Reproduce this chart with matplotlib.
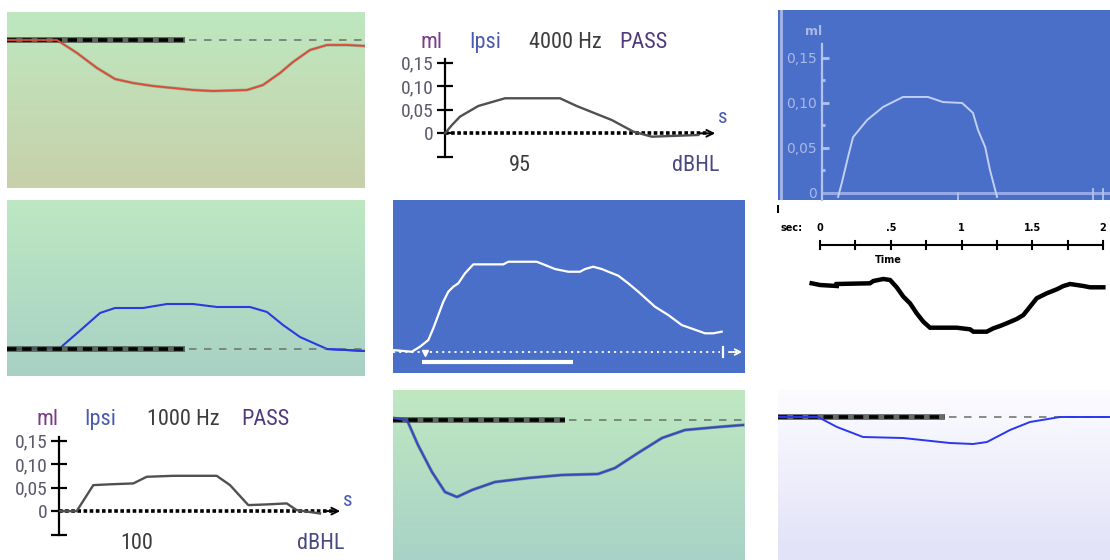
import numpy as np
import matplotlib
matplotlib.use("Agg")
import matplotlib.pyplot as plt
from matplotlib import font_manager
from matplotlib.colors import to_rgb

W, H = 1110, 560

# ---------------- data ----------------
# Panel 1 (green, red curve)
p1_t = [0, 0.25, 0.35, 0.45, 0.54, 0.63, 0.73, 0.83, 0.93, 1.03, 1.2, 1.28, 1.365, 1.43, 1.515, 1.6, 1.7, 1.79]
p1_v = [0, 0, -0.026, -0.056, -0.078, -0.086, -0.092, -0.096, -0.1, -0.102, -0.1, -0.09, -0.066, -0.044, -0.02, -0.01, -0.01, -0.012]

# Panel 2 (Ipsi 4000 Hz)
p2_t = [0, 0.07, 0.15, 0.333, 0.6, 1.15, 1.317, 1.667, 1.883, 2.067, 2.533]
p2_v = [0, 0.0177, 0.0355, 0.0581, 0.0745, 0.0745, 0.058, 0.0283, 0.0036, -0.0072, -0.0036]
p2_title = ["ml", "Ipsi", "4000 Hz", "PASS"]
p2_level = "95"

# Panel 3 (blue, arc)
p3_t = [0.118, 0.147, 0.191, 0.228, 0.331, 0.449, 0.596, 0.779, 0.89, 1.03, 1.11, 1.147, 1.2, 1.235, 1.287]
p3_v = [-0.0044, 0.0122, 0.04, 0.062, 0.081, 0.0956, 0.1067, 0.1067, 0.101, 0.1, 0.089, 0.07, 0.051, 0.0256, -0.0044]

# Panel 4 (white, black stepped trace)
p4_t = [-0.059, 0, 0.118, 0.118, 0.353, 0.377, 0.447, 0.495, 0.542, 0.589, 0.636, 0.683, 0.73, 0.777, 0.966, 1.06,
        1.084, 1.178, 1.225, 1.272, 1.319, 1.39, 1.437, 1.484, 1.531, 1.602, 1.673, 1.72, 1.767, 1.861, 1.908, 2.002]
p4_v = [0.0067, 0.005, 0.004, 0.006, 0.0067, 0.009, 0.011, 0.01, 0.0027, -0.0067, -0.0133, -0.0233, -0.0317, -0.0377,
        -0.0377, -0.0393, -0.0417, -0.0417, -0.0383, -0.036, -0.0333, -0.029, -0.025, -0.0167, -0.0083, -0.0033,
        0.0007, 0.004, 0.006, 0.004, 0.0027, 0.0027]
p4_ticks = [0, 0.25, 0.5, 0.75, 1.0, 1.25, 1.5, 1.75, 2.0]
p4_ticklabels = {0: "0", 0.5: ".5", 1.0: "1", 1.5: "1.5", 2.0: "2"}

# Panel 5 (green, blue positive curve)
p5_t = [0, 0.265, 0.38, 0.465, 0.54, 0.68, 0.8, 0.93, 1.05, 1.215, 1.3, 1.38, 1.465, 1.6, 1.79]
p5_v = [0, 0.002, 0.042, 0.072, 0.082, 0.082, 0.09, 0.09, 0.084, 0.084, 0.074, 0.048, 0.024, 0, -0.004]

# Panel 6 (blue, white curve)
p6_t = [0.003, 0.187, 0.27, 0.353, 0.403, 0.453, 0.503, 0.553, 0.603, 0.653, 0.72, 0.803, 1.103, 1.153, 1.437, 1.52,
        1.62, 1.753, 1.87, 1.92, 2.003, 2.087, 2.253, 2.353, 2.453, 2.62, 2.753, 2.887, 3.12, 3.203, 3.287]
p6_v = [0.0022, 0.0003, 0.0059, 0.0133, 0.0263, 0.0411, 0.0559, 0.067, 0.0726, 0.0763, 0.0874, 0.0974, 0.0974, 0.1003,
        0.1003, 0.0967, 0.0922, 0.0892, 0.0892, 0.0922, 0.0948, 0.0922, 0.0848, 0.0763, 0.067, 0.0503, 0.0411, 0.03,
        0.0208, 0.0208, 0.0226]

# Panel 7 (Ipsi 1000 Hz)
p7_t = [0.01, 0.177, 0.343, 0.51, 0.743, 0.877, 1.143, 1.577, 1.71, 1.893, 2.077, 2.277, 2.377, 2.61]
p7_v = [0, 0, 0.0553, 0.057, 0.0589, 0.073, 0.0751, 0.0751, 0.0553, 0.0128, 0.0142, 0.0164, 0.0021, -0.005]
p7_title = ["ml", "Ipsi", "1000 Hz", "PASS"]
p7_level = "100"

# Panel 8 (green, deep negative curve)
p8_t = [0, 0.07, 0.125, 0.195, 0.26, 0.32, 0.395, 0.51, 0.675, 0.845, 1.025, 1.11, 1.225, 1.345, 1.46, 1.625, 1.75]
p8_v = [0.004, 0, -0.05, -0.104, -0.144, -0.154, -0.14, -0.124, -0.116, -0.11, -0.108, -0.096, -0.066, -0.036, -0.02, -0.014, -0.01]

# Panel 9 (lavender, shallow negative curve)
p9_t = [0, 0.2, 0.295, 0.425, 0.625, 0.86, 0.975, 1.045, 1.16, 1.26, 1.41, 1.66]
p9_v = [0, 0, -0.02, -0.04, -0.042, -0.052, -0.054, -0.05, -0.026, -0.01, 0, 0]

yticks_ml = [0.15, 0.10, 0.05, 0.0]
ytick_labels = ["0,15", "0,10", "0,05", "0"]

# ---------------- fonts ----------------
avail = {f.name for f in font_manager.fontManager.ttflist}
narrow = [f for f in ["Liberation Sans Narrow", "Roboto Condensed", "Open Sans", "DejaVu Sans"] if f in avail][0]

fig = plt.figure(figsize=(W / 100, H / 100), dpi=100)
fig.patch.set_facecolor("white")


def px_axes(x0, y0, x1, y1):
    ax = fig.add_axes([x0 / W, 1 - y1 / H, (x1 - x0) / W, (y1 - y0) / H])
    return ax


def gradient(ax, top, bottom):
    t = np.array(to_rgb(top))
    b = np.array(to_rgb(bottom))
    f = np.linspace(0, 1, 256)[:, None]
    img = (t[None, :] * (1 - f) + b[None, :] * f)[:, None, :]
    x0, x1 = ax.get_xlim()
    y0, y1 = ax.get_ylim()
    ax.imshow(img, extent=[x0, x1, y0, y1], aspect="auto", zorder=0, origin="upper")
    ax.set_xlim(x0, x1)
    ax.set_ylim(y0, y1)


def baseline(ax, t_split, t_end):
    ax.plot([ax.get_xlim()[0], t_split], [0, 0], color="#4d554d", lw=4.2, alpha=0.85, zorder=2,
            solid_capstyle="butt")
    ax.plot([ax.get_xlim()[0], t_split], [0, 0], color="black", lw=2.6, dashes=(2.6, 1.6), zorder=3)
    ax.plot([t_split + 0.02, t_end], [0, 0], color="#6f7a70", lw=1.2, dashes=(4.5, 4.5), zorder=3)


# ---------- Panel 1 ----------
ax = px_axes(7, 12, 365, 188)
ax.set_xlim(0, 1.79)
ax.set_ylim(-0.296, 0.056)
ax.axis("off")
gradient(ax, "#bee8c0", "#c7d0aa")
baseline(ax, 0.89, 1.79)
ax.plot(p1_t, p1_v, color="#4a4030", lw=2.2, zorder=4, alpha=0.3)
ax.plot(p1_t, p1_v, color="#de4a36", lw=1.3, zorder=5)

# ---------- Panel 5 ----------
ax = px_axes(7, 200, 365, 376)
ax.set_xlim(0, 1.79)
ax.set_ylim(-0.054, 0.298)
ax.axis("off")
gradient(ax, "#bde8c2", "#a8d1c5")
ax.plot(p5_t, p5_v, color="#2a3ae0", lw=1.5, zorder=2)
baseline(ax, 0.89, 1.79)
ax.plot(p5_t[-2:], p5_v[-2:], color="#2a3ae0", lw=1.5, zorder=4)

# ---------- Panel 8 ----------
ax = px_axes(393, 390, 745, 560)
ax.set_xlim(0, 1.76)
ax.set_ylim(-0.28, 0.06)
ax.axis("off")
gradient(ax, "#bfe8c1", "#a8d2c6")
baseline(ax, 0.86, 1.76)
ax.plot(p8_t, p8_v, color="#23306a", lw=2.3, zorder=4, alpha=0.45)
ax.plot(p8_t, p8_v, color="#3448c0", lw=1.4, zorder=5)

# ---------- Panel 9 ----------
ax = px_axes(778, 390, 1110, 560)
ax.set_xlim(0, 1.66)
ax.set_ylim(-0.286, 0.054)
ax.axis("off")
gradient(ax, "#fcfcff", "#e1e1f8")
ax.plot(p9_t, p9_v, color="#2a36f0", lw=1.4, zorder=4)
baseline(ax, 0.835, 1.66)

# ---------- Panel 6 (blue) ----------
ax = px_axes(393, 200, 745, 373)
ax.set_xlim(0, 3.52)
ax.set_ylim(-0.0233, 0.1689)
ax.axis("off")
ax.add_patch(plt.Rectangle((0, -0.0233), 3.52, 0.1922, color="#4a6fc9", zorder=0))
ax.plot(p6_t, p6_v, color="white", lw=1.6, zorder=3)
ax.plot([0, 3.27], [0, 0], color="white", lw=1.3, dashes=(1.2, 2.2), zorder=2)
ax.plot([3.3, 3.3], [-0.006, 0.006], color="white", lw=1.6)
ax.annotate("", xy=(3.52, 0), xytext=(3.33, 0),
            arrowprops=dict(arrowstyle="->", color="white", lw=1.3))
ax.plot([0.32], [-0.0015], marker="v", color="white", ms=4)
ax.plot([0.29, 1.8], [-0.0111, -0.0111], color="white", lw=3, solid_capstyle="butt")

# ---------- Panel 3 (blue axis) ----------
ax = px_axes(778, 10, 1110, 200)
ax.set_xlim(-0.324, 2.118)
ax.set_ylim(-0.0078, 0.2033)
ax.set_facecolor("#4a6fc9")
for s in ["top", "right", "bottom"]:
    ax.spines[s].set_visible(False)
lc = "#b3c3ee"
ax.spines["left"].set_position(("data", 0))
ax.spines["left"].set_bounds(-0.0078, 0.1656)
ax.spines["left"].set_color(lc)
ax.spines["left"].set_linewidth(1.6)
ax.set_xticks([])
ax.set_yticks(yticks_ml)
ax.set_yticklabels(ytick_labels)
ax.set_yticks([0.125, 0.075, 0.025], minor=True)
ax.tick_params(axis="y", which="major", direction="in", length=5, width=2, color=lc,
               labelcolor="#a9b8e6", labelsize=10, pad=4)
ax.tick_params(axis="y", which="minor", direction="in", length=2, width=2, color=lc)
ax.plot([-0.30, -0.30], [-0.0078, 0.2033], color="#a6b6ea", lw=2)
ax.plot([0, 2.118], [0, 0], color="#93a8e4", lw=2.2)
ax.plot([1.0, 1.0], [-0.008, 0], color=lc, lw=1.3)
ax.plot([1.99, 1.99], [-0.008, 0.004], color=lc, lw=1.3)
ax.plot([2.07, 2.07], [-0.008, 0.004], color=lc, lw=1.3)
ax.plot(p3_t, p3_v, color="#c3cff2", lw=1.4, zorder=4)
ax.text(-0.066, 0.179, "ml", color="#a9b8e6", fontsize=9, ha="center", va="center", fontweight="bold")

# ---------- Panel 4 (white, black trace) ----------
ax = px_axes(775, 200, 1110, 350)
ax.set_xlim(-0.318, 2.049)
ax.set_ylim(-0.06, 0.09)
ax.axis("off")
ax.plot([0, 2.0], [0.045, 0.045], color="black", lw=1.5)
for tk in p4_ticks:
    ax.plot([tk, tk], [0.041, 0.049], color="black", lw=1.5)
    if tk in p4_ticklabels:
        ax.text(tk, 0.062, p4_ticklabels[tk], fontsize=7, fontweight="bold", ha="center", va="center")
ax.text(-0.198, 0.062, "sec:", fontsize=7, fontweight="bold", ha="center", va="center")
ax.text(0.48, 0.03, "Time", fontsize=7, fontweight="bold", ha="center", va="center")
ax.text(-0.30, 0.08, "I", fontsize=8, fontweight="bold", ha="center", va="center")
ax.plot(p4_t, p4_v, color="black", lw=3.2, solid_joinstyle="miter")


# ---------- Panels 2 and 7 (tympanometry read-outs) ----------
def readout(box, xlim, ylim, t, v, titles, title_t, title_v, level, level_t, arrow_end, s_pos):
    ax = px_axes(*box)
    ax.set_xlim(*xlim)
    ax.set_ylim(*ylim)
    for s in ["top", "right", "bottom"]:
        ax.spines[s].set_visible(False)
    ax.spines["left"].set_position(("data", 0))
    ax.spines["left"].set_bounds(-0.05, 0.157)
    ax.spines["left"].set_linewidth(1.6)
    ax.set_xticks([])
    ax.set_yticks(yticks_ml + [-0.05])
    ax.set_yticklabels(ytick_labels + [""])
    ax.tick_params(axis="y", direction="inout", length=12, width=1.6, labelsize=14,
                   labelcolor="#5b5a6c", pad=2)
    for lab in ax.get_yticklabels():
        lab.set_fontfamily(narrow)
    ax.plot([0, arrow_end - 0.1], [0, 0], color="black", lw=2.6, dashes=(1.0, 0.7), zorder=2)
    ax.annotate("", xy=(arrow_end, 0), xytext=(arrow_end - 0.2, 0),
                arrowprops=dict(arrowstyle="->", color="black", lw=1.4, mutation_scale=12))
    ax.plot(t, v, color="#505050", lw=1.7, zorder=3)
    cols = ["#7a3d8a", "#4a5ab0", "#3c3c3c", "#4e3a7c"]
    for txt, tt, c in zip(titles, title_t, cols):
        ax.text(tt, title_v, txt, color=c, fontsize=16, family=narrow, ha="center", va="center")
    ax.text(level_t, -0.068, level, color="#3c3c3c", fontsize=16, family=narrow, ha="center", va="center")
    ax.text(s_pos[0] - 0.27, -0.068, "dBHL", color="#4a4a82", fontsize=16, family=narrow,
            ha="center", va="center")
    ax.text(s_pos[0], s_pos[1], "s", color="#4a5ab0", fontsize=15, family=narrow, ha="center", va="center")


readout((385, 20, 745, 190), (-0.6, 3.0), (-0.1206, 0.241), p2_t, p2_v, p2_title,
        [-0.13, 0.4, 1.2, 1.98], 0.194, p2_level, 0.75, 2.73, (2.78, 0.033))
readout((0, 395, 370, 560), (-0.59, 3.11), (-0.104, 0.247), p7_t, p7_v, p7_title,
        [-0.12, 0.41, 1.24, 2.06], 0.194, p7_level, 0.78, 2.84, (2.89, 0.023))

fig.savefig("out.png", dpi=100)
